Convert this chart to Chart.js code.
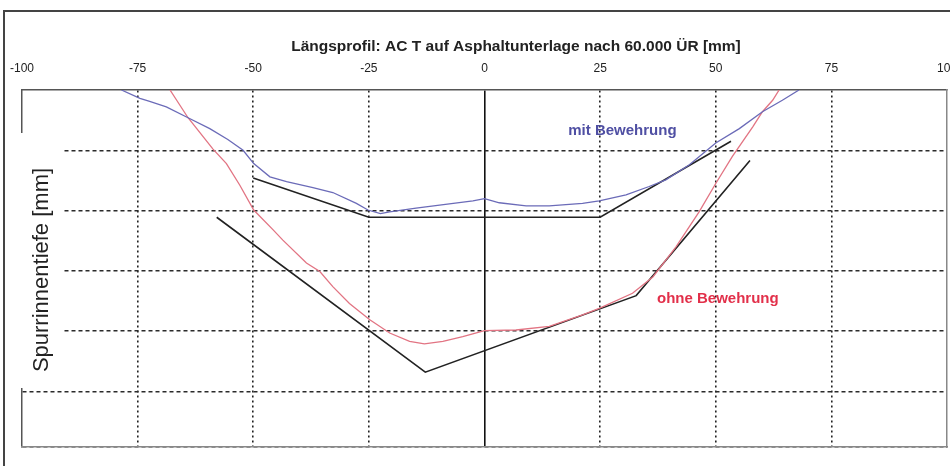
<!DOCTYPE html>
<html>
<head>
<meta charset="utf-8">
<script src="https://cdn.jsdelivr.net/npm/chart.js@4.4.1/dist/chart.umd.min.js"></script>
<style>
  html, body { margin: 0; padding: 0; background: #fff; overflow: hidden; }
  #wrap { position: absolute; left: 0; top: 0; width: 950px; height: 466px; }
</style>
</head>
<body>
<div id="wrap"><canvas id="chart" width="950" height="466"></canvas></div>
<script>
// — Daten —
const TITLE   = 'Längsprofil: AC T auf Asphaltunterlage nach 60.000 ÜR [mm]';
const Y_TITLE = 'Spurrinnentiefe [mm]';
const xTicks  = [-100, -75, -50, -25, 0, 25, 50, 75, 100];

// gemessenes Profil mit Bewehrung (blau)
const mitX = [-78.5, -74.5, -72.4, -68.8, -64.1, -59.4, -55.5, -52.2, -49.9, -46.4, -42.8, -37.1, -32.8, -27.7, -25.2, -22.5, -20.5, -14.8, -7.6, -2.5, 0, 3.2, 9, 14, 21.2, 24.8, 30.6, 35.6, 39.2, 44.3, 50, 55.1, 60.1, 64.4, 68];
const mitY = [0, 0.14, 0.19, 0.28, 0.46, 0.64, 0.82, 1.0, 1.22, 1.44, 1.52, 1.62, 1.7, 1.88, 1.99, 2.05, 2.02, 1.96, 1.89, 1.84, 1.8, 1.87, 1.92, 1.92, 1.88, 1.84, 1.74, 1.6, 1.49, 1.24, 0.88, 0.64, 0.36, 0.17, 0];

// gemessenes Profil ohne Bewehrung (rot)
const ohneX = [-68, -64.1, -58.7, -55.8, -52.9, -49.9, -45.7, -43.6, -38.5, -35.6, -32.8, -29.2, -24.8, -20.5, -16.2, -13, -9, -4.7, 0, 6.8, 14, 21.2, 24.8, 32, 36.4, 41.4, 46.4, 50, 53.6, 58, 60.1, 62.3, 63.7];
const ohneY = [0, 0.46, 0.98, 1.22, 1.58, 1.99, 2.32, 2.49, 2.87, 3.01, 3.26, 3.54, 3.81, 4.03, 4.17, 4.21, 4.17, 4.09, 3.99, 3.98, 3.92, 3.73, 3.62, 3.37, 3.1, 2.6, 2.02, 1.55, 1.1, 0.61, 0.36, 0.17, 0];

// idealisierte Profile (schwarz)
const mitIdealX  = [-50, -25, 25, 53.3];
const mitIdealY  = [1.46, 2.11, 2.11, 0.85];
const ohneIdealX = [-57.9, -12.8, 32.8, 57.4];
const ohneIdealY = [2.11, 4.68, 3.41, 1.17];

// Beschriftungen im Diagramm (Datenkoordinaten, linke Grundlinie)
const labels = [
  { text: 'mit Bewehrung',  x: 18.1, y: 0.74, color: '#4f4fa3' },
  { text: 'ohne Bewehrung', x: 37.3, y: 3.53, color: '#e2304a' },
];

const pts = (xs, ys) => xs.map((x, i) => ({ x, y: ys[i] }));
const FONT = '"Liberation Sans", Arial, sans-serif';

const decor = {
  id: 'decor',
  beforeDraw(chart) {
    const ctx = chart.ctx;
    ctx.save();
    ctx.fillStyle = '#fff';
    ctx.fillRect(0, 0, chart.width, chart.height);
    ctx.restore();
  },
  beforeDatasetsDraw(chart) {
    const ctx = chart.ctx;
    const a = chart.chartArea;
    ctx.save();
    // weißes Feld für den Achsentitel
    ctx.fillStyle = '#fff';
    ctx.fillRect(a.left - 4, a.top + 43, 45, 255);
    ctx.translate(a.left + 20, a.top + 180);
    ctx.rotate(-Math.PI / 2);
    ctx.fillStyle = '#222';
    ctx.font = '22px ' + FONT;
    ctx.textAlign = 'center';
    ctx.textBaseline = 'middle';
    ctx.fillText(Y_TITLE, 0, 0);
    ctx.restore();
  },
  afterDatasetsDraw(chart) {
    const ctx = chart.ctx;
    const xs = chart.scales.x, ys = chart.scales.y;
    ctx.save();
    ctx.font = 'bold 15px ' + FONT;
    ctx.textBaseline = 'alphabetic';
    ctx.textAlign = 'left';
    labels.forEach(l => {
      ctx.fillStyle = l.color;
      ctx.fillText(l.text, xs.getPixelForValue(l.x), ys.getPixelForValue(l.y));
    });
    // Titel
    ctx.fillStyle = '#222';
    ctx.textAlign = 'center';
    ctx.font = 'bold 15.5px ' + FONT;
    ctx.fillText(TITLE, 516, 51);
    // äußerer Rahmen
    ctx.strokeStyle = '#444';
    ctx.lineWidth = 2;
    ctx.beginPath();
    ctx.moveTo(950, 11);
    ctx.lineTo(4, 11);
    ctx.lineTo(4, 466);
    ctx.stroke();
    ctx.restore();
  },
};

const noTicks = { display: false };
const flat = (w, h) => s => {
  if (w !== null) s.width = w;
  if (h !== null) s.height = h;
  s.paddingLeft = s.paddingRight = s.paddingTop = s.paddingBottom = 0;
};

new Chart(document.getElementById('chart'), {
  type: 'line',
  data: {
    datasets: [
      { label: 'mit Bewehrung',  data: pts(mitX, mitY),   borderColor: '#6b6bb8', borderWidth: 1.3 },
      { label: 'ohne Bewehrung', data: pts(ohneX, ohneY), borderColor: '#e27483', borderWidth: 1.3 },
      { label: 'mit (ideal)',    data: pts(mitIdealX, mitIdealY),   borderColor: '#222', borderWidth: 1.6 },
      { label: 'ohne (ideal)',   data: pts(ohneIdealX, ohneIdealY), borderColor: '#222', borderWidth: 1.6 },
    ],
  },
  options: {
    responsive: false,
    animation: false,
    devicePixelRatio: 1,
    elements: { point: { radius: 0 }, line: { tension: 0 } },
    layout: { autoPadding: false, padding: { top: 60, left: 22, right: 3, bottom: 19 } },
    plugins: { legend: { display: false }, title: { display: false }, tooltip: { enabled: false } },
    scales: {
      x: {
        type: 'linear', position: 'top', min: -100, max: 100,
        afterBuildTicks: s => { s.ticks = xTicks.map(v => ({ value: v })); },
        afterFit: flat(null, 30),
        ticks: { autoSkip: false, maxRotation: 0, padding: 14, color: '#222', font: { family: FONT, size: 12 } },
        grid: {
          drawTicks: false, lineWidth: 1.6,
          color: c => (c.tick && Math.abs(c.tick.value) === 100) ? 'rgba(0,0,0,0)' : (c.tick && c.tick.value === 0 ? '#111' : '#222'),
        },
        border: { display: true, color: '#555', width: 1.5, dash: c => (c.tick && c.tick.value === 0) ? [] : [2, 3] },
      },
      y: {
        type: 'linear', reverse: true, min: 0, max: 5.92,
        afterFit: flat(0, null),
        ticks: { display: false, stepSize: 1 },
        grid: {
          drawTicks: false, lineWidth: 1.5,
          color: c => (c.tick && c.tick.value === 0) ? 'rgba(0,0,0,0)' : '#2a2a2a',
        },
        border: { display: true, color: '#555', width: 1.5, dash: [4, 3] },
      },
      x2: {
        type: 'linear', position: 'bottom', min: -100, max: 100,
        afterFit: flat(null, 0),
        ticks: noTicks, grid: { display: false, drawTicks: false },
        border: { display: true, color: '#888', width: 1.5 },
      },
      y2: {
        type: 'linear', position: 'right', min: 0, max: 5.92,
        afterFit: flat(0, null),
        ticks: noTicks, grid: { display: false, drawTicks: false },
        border: { display: true, color: '#888', width: 1.5 },
      },
    },
  },
  plugins: [decor],
});
</script>
</body>
</html>
